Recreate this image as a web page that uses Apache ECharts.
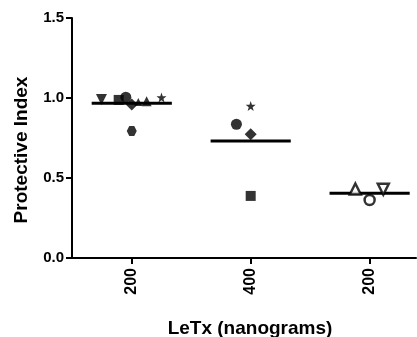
<!DOCTYPE html>
<html>
<head>
<meta charset="utf-8">
<script src="https://cdn.jsdelivr.net/npm/echarts@6/dist/echarts.min.js"></script>
<style>
  html, body { margin: 0; padding: 0; background: #fff; }
  #chart { width: 417px; height: 337px; }
</style>
</head>
<body>
<div id="chart"></div>
<script>
// group positions on the x axis and their tick labels
const groupPos = [1, 2, 3]
const groupLabels = ['200', '400', '200']

// group means (horizontal bars)
const means = [0.967, 0.731, 0.404]

// individual points: [x, value] (x = group position + jitter)
const downTri = [[0.745, 0.99]]
const squares = [[0.89, 0.988], [2.0, 0.388]]
const circles = [[0.95, 1.005], [1.88, 0.836]]
const diamonds = [[1.0, 0.96], [2.0, 0.773]]
const smallTri = [[1.055, 0.975]]
const triangles = [[1.125, 0.98]]
const stars = [[1.25, 1.003], [2.0, 0.95]]
const hexagons = [[1.0, 0.794]]
const openTri = [[2.88, 0.431]]
const openCircle = [[3.0, 0.3625]]
const openDownTri = [[3.115, 0.43]]

const halfBar = 0.337
const font = 'Liberation Sans, Arial, Helvetica, sans-serif'

const starPath = 'path://M50,0 L61.8,35.1 L98.1,35.1 L68.8,56.8 L79.4,91.9 L50,70.2 L20.6,91.9 L31.2,56.8 L1.9,35.1 L38.2,35.1 Z'
const hexPath = 'path://M25,0 L75,0 L100,50 L75,100 L25,100 L0,50 Z'
const downTriPath = 'path://M0,0 L100,0 L50,90 Z'

function pts(data, symbol, size, open) {
  return {
    type: 'scatter',
    data: data,
    symbol: symbol,
    symbolSize: size,
    itemStyle: open
      ? { color: '#fff', borderColor: '#000', borderWidth: 2.5 }
      : { color: '#000' },
    z: 3
  }
}

const meanSeries = means.map((m, i) => ({
  type: 'line',
  data: [[groupPos[i] - halfBar, m], [groupPos[i] + halfBar, m]],
  symbol: 'none',
  lineStyle: { color: '#000', width: 3 },
  z: 2
}))

const chart = echarts.init(document.getElementById('chart'))
chart.setOption({
  animation: false,
  grid: { left: 72, right: 1, top: 18, bottom: 79, outerBoundsMode: 'none' },
  xAxis: {
    type: 'value',
    min: 0.4975,
    max: 3.39,
    name: 'LeTx (nanograms)',
    nameLocation: 'middle',
    nameGap: 61,
    nameTextStyle: { fontFamily: font, fontWeight: 'bold', fontSize: 19, color: '#000', padding: [0, 0, 0, 12] },
    axisLine: { show: true, lineStyle: { color: '#000', width: 2 } },
    axisTick: { show: true, customValues: groupPos, length: 6, lineStyle: { color: '#000', width: 2 } },
    axisLabel: {
      customValues: groupPos,
      rotate: 90,
      margin: 10,
      fontFamily: font,
      fontWeight: 'bold',
      fontSize: 16,
      color: '#000',
      formatter: v => groupLabels[groupPos.indexOf(Math.round(v))]
    },
    splitLine: { show: false }
  },
  yAxis: {
    type: 'value',
    min: 0,
    max: 1.5,
    interval: 0.5,
    name: 'Protective Index',
    nameLocation: 'middle',
    nameGap: 41,
    nameTextStyle: { fontFamily: font, fontWeight: 'bold', fontSize: 19, color: '#000', padding: [0, 24, 0, 0] },
    axisLine: { show: true, lineStyle: { color: '#000', width: 2 } },
    axisTick: { show: true, length: 6, lineStyle: { color: '#000', width: 2 } },
    axisLabel: {
      margin: 8,
      fontFamily: font,
      fontWeight: 'bold',
      fontSize: 15,
      color: '#000',
      formatter: v => v.toFixed(1)
    },
    splitLine: { show: false }
  },
  series: [
    ...meanSeries,
    pts(downTri, downTriPath, 11),
    pts(squares, 'rect', 10),
    pts(circles, 'circle', 11),
    pts(diamonds, 'diamond', 12),
    pts(smallTri, 'triangle', 8),
    pts(triangles, 'triangle', 10),
    pts(stars, starPath, 10),
    pts(hexagons, hexPath, 10),
    pts(openTri, 'triangle', 11, true),
    pts(openCircle, 'circle', 10, true),
    pts(openDownTri, downTriPath, 11, true)
  ]
})
</script>
</body>
</html>
